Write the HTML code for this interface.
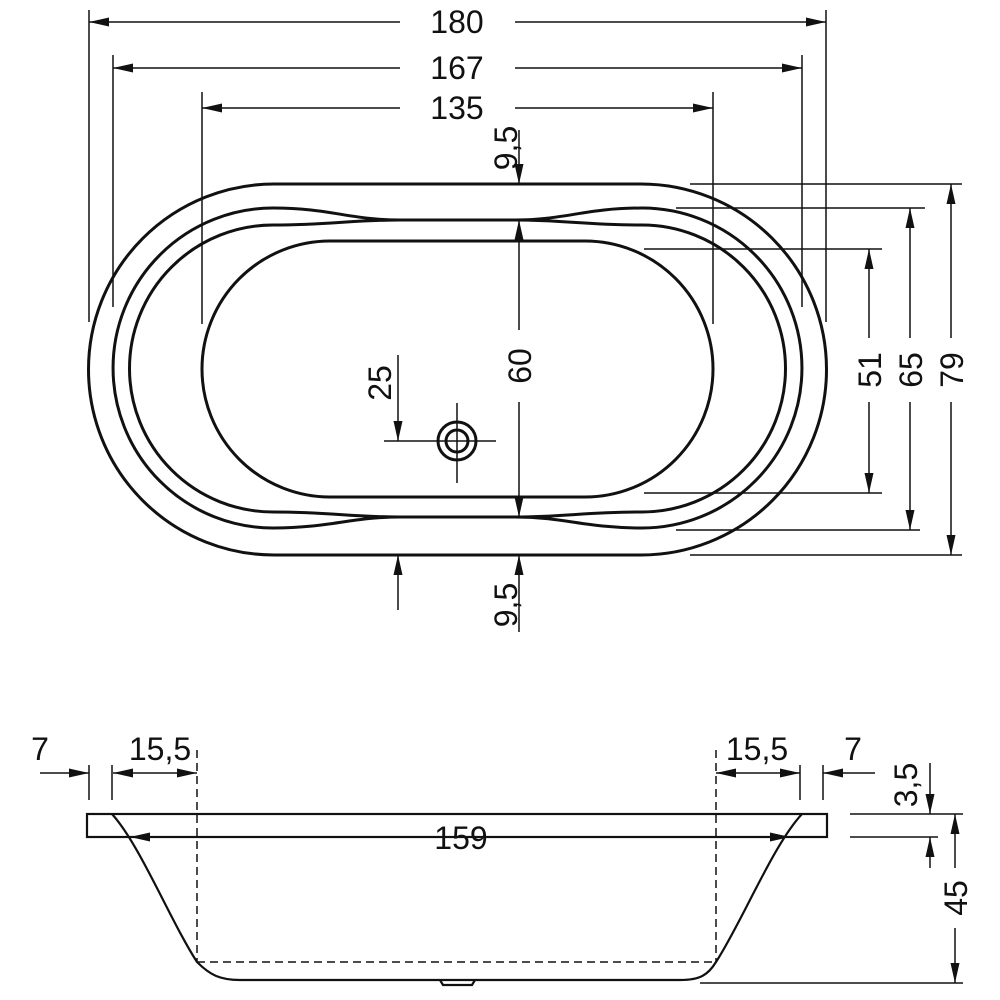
<!DOCTYPE html>
<html><head><style>
html,body{margin:0;padding:0;background:#fff}
svg{display:block}
text{font-family:"Liberation Sans",sans-serif;font-size:32px;fill:#111}
</style></head><body>
<svg width="1000" height="1000" viewBox="0 0 1000 1000" xmlns="http://www.w3.org/2000/svg">
<defs>
<marker id="a" viewBox="0 0 20 10" refX="20" refY="5" markerWidth="20" markerHeight="10" markerUnits="userSpaceOnUse" orient="auto-start-reverse">
<path d="M0,0.5 L20,5 L0,9.5 Z" fill="#111"/></marker>
</defs>
<g fill="none" stroke="#111" stroke-width="3">
<path d="M274,184 L641,184 A185.5,185.5 0 0 1 641,555 L274,555 A185.5,185.5 0 0 1 274,184 Z"/>
<path d="M273,208 C330,208 350,220 400,220 L515,220 C565,220 585,208 642,208 A160,160 0 0 1 642,528 C585,528 565,517 515,517 L400,517 C350,517 330,528 273,528 A160,160 0 0 1 273,208 Z"/>
<path d="M273,225 C330,225 350,220 400,220 L515,220 C565,220 585,225 642,225 A143.5,143.5 0 0 1 642,512 C585,512 565,517 515,517 L400,517 C350,517 330,512 273,512 A143.5,143.5 0 0 1 273,225 Z"/>
<path d="M330,241 L585,241 A128,128 0 0 1 585,497 L330,497 A128,128 0 0 1 330,241 Z"/>
<circle cx="457" cy="441" r="19"/>
<circle cx="457" cy="441" r="11"/>
</g>
<g fill="none" stroke="#111" stroke-width="1.5">
<line x1="384" y1="441" x2="496" y2="441"/><line x1="457" y1="403" x2="457" y2="483"/>
<line x1="89" y1="10" x2="89" y2="322"/><line x1="826" y1="10" x2="826" y2="322"/>
<line x1="113" y1="55" x2="113" y2="307"/><line x1="802" y1="55" x2="802" y2="307"/>
<line x1="202" y1="92" x2="202" y2="324"/><line x1="713" y1="92" x2="713" y2="324"/>
<line x1="89" y1="22" x2="400" y2="22" marker-start="url(#a)"/><line x1="515" y1="22" x2="826" y2="22" marker-end="url(#a)"/>
<line x1="113" y1="68" x2="400" y2="68" marker-start="url(#a)"/><line x1="515" y1="68" x2="802" y2="68" marker-end="url(#a)"/>
<line x1="202" y1="108" x2="400" y2="108" marker-start="url(#a)"/><line x1="515" y1="108" x2="713" y2="108" marker-end="url(#a)"/>
<line x1="519" y1="130" x2="519" y2="184" marker-end="url(#a)"/>
<line x1="519" y1="330" x2="519" y2="220" marker-end="url(#a)"/>
<line x1="519" y1="402" x2="519" y2="517" marker-end="url(#a)"/>
<line x1="519" y1="632" x2="519" y2="555" marker-end="url(#a)"/>
<line x1="398" y1="610" x2="398" y2="555" marker-end="url(#a)"/>
<line x1="398" y1="355" x2="398" y2="441" marker-end="url(#a)"/>
<line x1="690" y1="184" x2="962" y2="184"/><line x1="690" y1="555" x2="962" y2="555"/>
<line x1="676" y1="208" x2="925" y2="208"/><line x1="676" y1="530" x2="920" y2="530"/>
<line x1="644" y1="249" x2="882" y2="249"/><line x1="644" y1="493" x2="882" y2="493"/>
<line x1="951" y1="338" x2="951" y2="184" marker-end="url(#a)"/><line x1="951" y1="402" x2="951" y2="555" marker-end="url(#a)"/>
<line x1="910" y1="338" x2="910" y2="208" marker-end="url(#a)"/><line x1="910" y1="402" x2="910" y2="530" marker-end="url(#a)"/>
<line x1="869" y1="338" x2="869" y2="249" marker-end="url(#a)"/><line x1="869" y1="402" x2="869" y2="493" marker-end="url(#a)"/>
<line x1="89" y1="765" x2="89" y2="800"/><line x1="112" y1="765" x2="112" y2="800"/>
<line x1="800" y1="765" x2="800" y2="800"/><line x1="823" y1="765" x2="823" y2="800"/>
<line x1="40" y1="773" x2="89" y2="773" marker-end="url(#a)"/>
<line x1="113" y1="773" x2="197" y2="773" marker-start="url(#a)" marker-end="url(#a)"/>
<line x1="716" y1="773" x2="800" y2="773" marker-start="url(#a)" marker-end="url(#a)"/>
<line x1="875" y1="773" x2="823" y2="773" marker-end="url(#a)"/>
<line x1="130" y1="837" x2="410" y2="837" marker-start="url(#a)"/><line x1="512" y1="837" x2="790" y2="837" marker-end="url(#a)"/>
<line x1="850" y1="814" x2="963" y2="814"/><line x1="850" y1="837" x2="938" y2="837"/>
<line x1="700" y1="983" x2="963" y2="983"/>
<line x1="930" y1="763" x2="930" y2="814" marker-end="url(#a)"/>
<line x1="930" y1="868" x2="930" y2="837" marker-end="url(#a)"/>
<line x1="955" y1="868" x2="955" y2="814" marker-end="url(#a)"/>
<line x1="955" y1="928" x2="955" y2="983" marker-end="url(#a)"/>
</g>
<g fill="none" stroke="#111" stroke-width="1.5" stroke-dasharray="8,5">
<line x1="197" y1="750" x2="197" y2="962"/><line x1="716" y1="750" x2="716" y2="962"/>
<line x1="197" y1="962" x2="716" y2="962"/>
</g>
<g fill="none" stroke="#111" stroke-width="2.2">
<rect x="87" y="814" width="740" height="23"/>
<path d="M112,814 C140,845 170,920 197,962 C210,975 220,980 240,980 L680,980 C700,980 708,975 716,962 C743,920 773,845 802,814"/>
<path d="M440,980 L443,985 L472,985 L475,980"/>
</g>
<text x="457" y="33" text-anchor="middle">180</text>
<text x="457" y="79" text-anchor="middle">167</text>
<text x="457" y="119" text-anchor="middle">135</text>
<text transform="translate(517,148) rotate(-90)" text-anchor="middle">9,5</text>
<text transform="translate(517,605) rotate(-90)" text-anchor="middle">9,5</text>
<text transform="translate(531,366) rotate(-90)" text-anchor="middle">60</text>
<text transform="translate(391,383) rotate(-90)" text-anchor="middle">25</text>
<text transform="translate(881,370) rotate(-90)" text-anchor="middle">51</text>
<text transform="translate(922,370) rotate(-90)" text-anchor="middle">65</text>
<text transform="translate(963,370) rotate(-90)" text-anchor="middle">79</text>
<text x="40" y="760" text-anchor="middle">7</text>
<text x="160" y="760" text-anchor="middle">15,5</text>
<text x="757" y="760" text-anchor="middle">15,5</text>
<text x="853" y="760" text-anchor="middle">7</text>
<text x="461" y="849" text-anchor="middle">159</text>
<text transform="translate(917,785) rotate(-90)" text-anchor="middle">3,5</text>
<text transform="translate(967,898) rotate(-90)" text-anchor="middle">45</text>
</svg>
</body></html>
